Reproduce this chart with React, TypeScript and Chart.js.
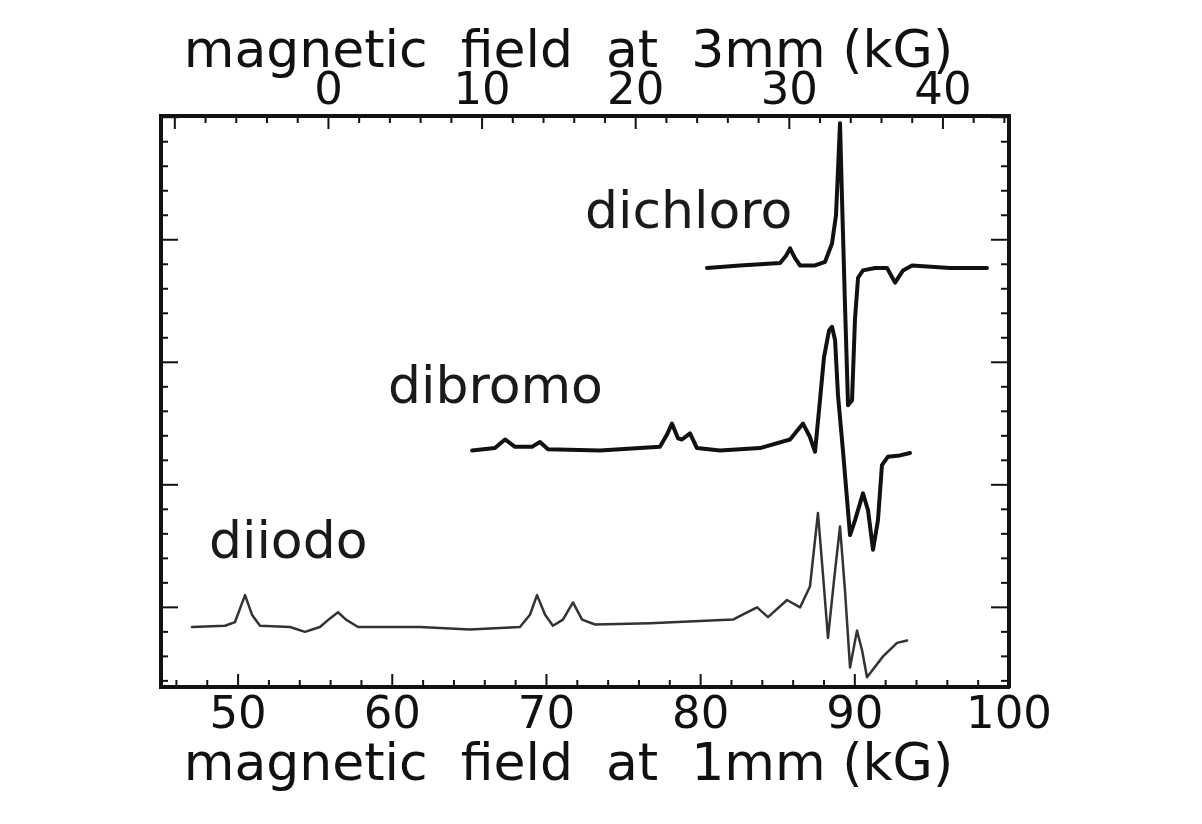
import React, { useEffect, useRef } from 'react';
import { Chart, registerables } from 'chart.js';

Chart.register(...registerables);

// ---- data (field at 1 mm in kG, signal in arbitrary units) ----
const dichloroX = [80.41, 82.55, 85.15, 85.54, 85.8, 86.12, 86.45, 87.42, 88.07, 88.52, 88.78, 88.91, 89.04, 89.17, 89.36, 89.56, 89.82, 90.01, 90.21, 90.53, 91.31, 92.09, 92.61, 93.13, 93.71, 96.17, 98.57];
const dichloroY = [3.77, 3.79, 3.81, 3.87, 3.93, 3.85, 3.79, 3.79, 3.82, 3.97, 4.2, 4.57, 4.95, 4.33, 3.48, 2.65, 2.69, 3.35, 3.69, 3.75, 3.77, 3.77, 3.65, 3.75, 3.79, 3.77, 3.77];

const dibromoX = [65.17, 66.66, 67.31, 67.96, 69.06, 69.58, 70.1, 73.47, 77.36, 77.82, 78.14, 78.53, 78.79, 79.31, 79.76, 81.26, 83.85, 85.8, 86.64, 87.09, 87.42, 87.74, 88.0, 88.33, 88.52, 88.72, 88.91, 89.23, 89.69, 90.01, 90.53, 90.86, 91.18, 91.5, 91.76, 92.15, 92.93, 93.58];
const dibromoY = [2.28, 2.3, 2.37, 2.31, 2.31, 2.35, 2.29, 2.28, 2.31, 2.41, 2.5, 2.38, 2.37, 2.42, 2.3, 2.28, 2.3, 2.37, 2.5, 2.39, 2.27, 2.69, 3.04, 3.26, 3.29, 3.18, 2.73, 2.28, 1.59, 1.71, 1.93, 1.79, 1.47, 1.71, 2.16, 2.23, 2.24, 2.26];

const diiodoX = [47.01, 49.15, 49.8, 50.45, 50.9, 51.42, 53.37, 54.34, 55.31, 55.96, 56.48, 57.0, 57.78, 61.8, 65.04, 68.28, 68.93, 69.39, 69.91, 70.42, 71.07, 71.72, 72.31, 73.15, 76.72, 82.1, 82.88, 83.66, 84.37, 85.6, 86.45, 87.09, 87.35, 87.61, 87.94, 88.26, 88.65, 89.04, 89.36, 89.69, 90.14, 90.47, 90.79, 91.83, 92.74, 93.39];
const diiodoY = [0.84, 0.85, 0.88, 1.1, 0.94, 0.85, 0.84, 0.8, 0.84, 0.91, 0.96, 0.9, 0.84, 0.84, 0.82, 0.84, 0.94, 1.1, 0.94, 0.85, 0.9, 1.04, 0.9, 0.86, 0.87, 0.9, 0.95, 1.0, 0.92, 1.06, 1.0, 1.17, 1.47, 1.77, 1.26, 0.75, 1.22, 1.66, 1.14, 0.51, 0.81, 0.65, 0.43, 0.6, 0.71, 0.73];

// ---- series labels and where they sit (data coordinates) ----
const seriesNames = ['dichloro', 'dibromo', 'diiodo'];
const nameAnchorX = [72.5, 59.72, 48.11];
const nameAnchorY = [4.1, 2.67, 1.4];

// ---- axes ----
const bottomRange = [45, 100];
const topRange = [-10.9, 44.3];
const yRange = [0.35, 5.01];
const bottomTitle = 'magnetic  field  at  1mm (kG)  ';
const topTitle = 'magnetic  field  at  3mm (kG)  ';

const FONT = '"DejaVu Sans", sans-serif';

function stepValues(min: number, max: number, step: number): number[] {
  const out: number[] = [];
  for (let k = Math.ceil(min / step - 1e-9); k * step <= max + 1e-9; k++) {
    out.push(Math.round(k * step * 1e6) / 1e6);
  }
  return out;
}

const frameTicks = {
  id: 'frameTicks',
  afterDatasetsDraw(chart: any) {
    const { ctx, chartArea: a, scales } = chart;
    ctx.save();
    ctx.strokeStyle = '#111';
    ctx.lineWidth = 2;
    const seg = (x1: number, y1: number, x2: number, y2: number) => {
      ctx.beginPath();
      ctx.moveTo(x1, y1);
      ctx.lineTo(x2, y2);
      ctx.stroke();
    };
    const xb = scales.x;
    for (const v of stepValues(xb.min, xb.max, 2)) {
      const p = xb.getPixelForValue(v);
      const len = Math.abs(v % 10) < 1e-6 ? 13 : 7;
      seg(p, a.bottom, p, a.bottom - len);
    }
    const xt = scales.x2;
    for (const v of stepValues(xt.min, xt.max, 2)) {
      const p = xt.getPixelForValue(v);
      const len = Math.abs(v % 10) < 1e-6 ? 13 : 7;
      seg(p, a.top, p, a.top + len);
    }
    const yl = scales.y;
    for (const v of stepValues(yl.min, yl.max, 0.2)) {
      const p = yl.getPixelForValue(v);
      const major = Math.abs(v - Math.round(v)) < 1e-6;
      seg(a.left, p, a.left + (major ? 17 : 7), p);
      seg(a.right, p, a.right - (major ? 18 : 8), p);
    }
    ctx.restore();
  },
};

const seriesLabelPlugin = {
  id: 'seriesLabels',
  afterDatasetsDraw(chart: any) {
    const { ctx, scales } = chart;
    ctx.save();
    ctx.fillStyle = '#1a1a1a';
    ctx.font = `52px ${FONT}`;
    ctx.textAlign = 'left';
    ctx.textBaseline = 'alphabetic';
    seriesNames.forEach((name, i) => {
      ctx.fillText(name, scales.x.getPixelForValue(nameAnchorX[i]), scales.y.getPixelForValue(nameAnchorY[i]));
    });
    ctx.restore();
  },
};

function toPoints(xs: number[], ys: number[]) {
  return xs.map((x, i) => ({ x, y: ys[i] }));
}

export default function App() {
  const ref = useRef<HTMLCanvasElement | null>(null);

  useEffect(() => {
    if (!ref.current) return;
    Chart.defaults.font.family = FONT;
    const chart = new Chart(ref.current, {
      type: 'line',
      data: {
        datasets: [
          { label: seriesNames[0], data: toPoints(dichloroX, dichloroY), borderColor: '#111', borderWidth: 4, pointRadius: 0, tension: 0, xAxisID: 'x', yAxisID: 'y', borderJoinStyle: 'round', borderCapStyle: 'round' },
          { label: seriesNames[1], data: toPoints(dibromoX, dibromoY), borderColor: '#111', borderWidth: 4, pointRadius: 0, tension: 0, xAxisID: 'x', yAxisID: 'y', borderJoinStyle: 'round', borderCapStyle: 'round' },
          { label: seriesNames[2], data: toPoints(diiodoX, diiodoY), borderColor: '#333', borderWidth: 2.5, pointRadius: 0, tension: 0, xAxisID: 'x', yAxisID: 'y', borderJoinStyle: 'round', borderCapStyle: 'round' },
        ],
      },
      options: {
        responsive: false,
        animation: false,
        events: [],
        layout: { padding: { left: 161, right: 193, top: 0, bottom: 0 } },
        plugins: { legend: { display: false }, tooltip: { enabled: false }, title: { display: false } },
        scales: {
          x: {
            type: 'linear',
            position: 'bottom',
            min: bottomRange[0],
            max: bottomRange[1],
            grid: { display: false, drawTicks: false },
            border: { display: true, width: 4, color: '#111' },
            ticks: { stepSize: 10, includeBounds: false, autoSkip: false, maxRotation: 0, padding: 2, color: '#111', font: { size: 45, family: FONT } },
            title: { display: true, text: bottomTitle, color: '#111', font: { size: 52, family: FONT }, padding: { top: 0, bottom: 26 } },
            afterFit: (s: any) => { s.height = 137; },
          },
          x2: {
            type: 'linear',
            position: 'top',
            min: topRange[0],
            max: topRange[1],
            grid: { display: false, drawTicks: false },
            border: { display: true, width: 4, color: '#111' },
            ticks: { stepSize: 10, includeBounds: false, autoSkip: false, maxRotation: 0, padding: -3, color: '#111', font: { size: 45, family: FONT }, callback: (v: any) => (Number(v) < 0 ? '' : String(v)) },
            title: { display: true, text: topTitle, color: '#111', font: { size: 52, family: FONT }, padding: { top: 22, bottom: 0 } },
            afterFit: (s: any) => { s.height = 116; },
          },
          y: {
            type: 'linear',
            position: 'left',
            min: yRange[0],
            max: yRange[1],
            grid: { display: false, drawTicks: false },
            border: { display: true, width: 4, color: '#111' },
            ticks: { display: false },
            afterFit: (s: any) => { s.width = 0; },
          },
          y2: {
            type: 'linear',
            position: 'right',
            min: yRange[0],
            max: yRange[1],
            grid: { display: false, drawTicks: false },
            border: { display: true, width: 4, color: '#111' },
            ticks: { display: false },
            afterFit: (s: any) => { s.width = 0; },
          },
        },
      } as any,
      plugins: [frameTicks, seriesLabelPlugin],
    });
    return () => chart.destroy();
  }, []);

  return (
    <div style={{ position: 'fixed', left: 0, top: 0, width: 1202, height: 824, background: '#fff' }}>
      <canvas ref={ref} width={1202} height={824} style={{ display: 'block' }} />
    </div>
  );
}
